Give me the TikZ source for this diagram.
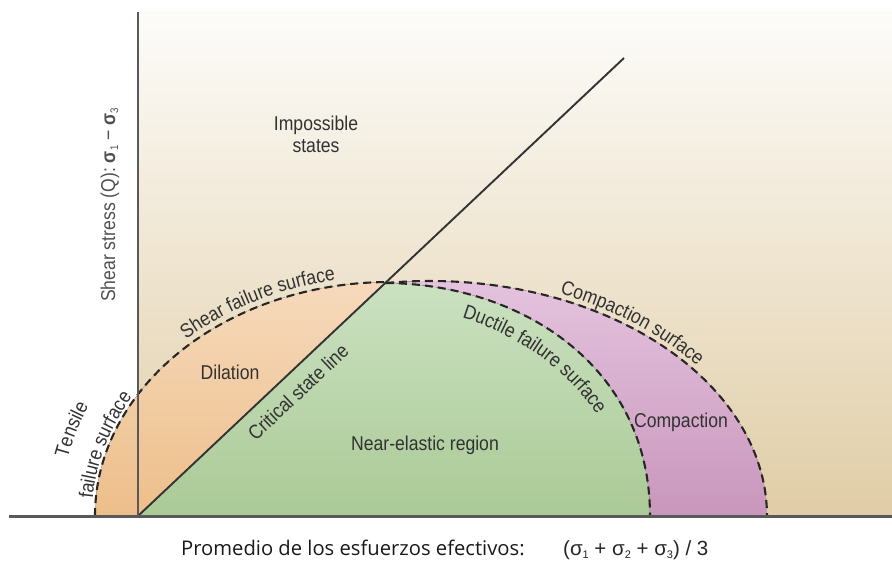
\documentclass[tikz,border=0pt]{standalone}
\usepackage{fontspec}
\setmainfont{Liberation Sans}
\newfontfamily\condfont[FakeStretch=0.88]{Liberation Sans}
\newfontfamily\axfont{Open Sans}
\usetikzlibrary{decorations.text}
\definecolor{txt}{RGB}{50,50,50}
\definecolor{ytxt}{RGB}{80,80,80}
\definecolor{bgtop}{RGB}{253,252,250}
\definecolor{bgbot}{RGB}{224,205,166}
\definecolor{or1}{RGB}{246,218,188}
\definecolor{or2}{RGB}{237,190,138}
\definecolor{gr1}{RGB}{203,225,193}
\definecolor{gr2}{RGB}{170,202,150}
\definecolor{pu1}{RGB}{229,197,223}
\definecolor{pu2}{RGB}{201,150,188}
\newcommand\sbs[1]{\raisebox{-0.3ex}{\fontsize{11}{11}\selectfont #1}}
\newcommand\lblsize{\fontsize{20}{24}\selectfont}
\tikzset{
  lbl/.style={font=\condfont\lblsize, text=txt, inner sep=0pt},
  dashline/.style={draw=black!85, line width=2.1pt, dash pattern=on 8pt off 5pt},
  critline/.style={draw=black!80, line width=1.9pt},
  vaxis/.style={draw=black!65, line width=2pt},
  haxis/.style={draw=black!65, line width=3pt},
  curvetext/.style={decorate, decoration={text along path, text align=center, text color=txt, text={|\condfont\lblsize|#1}}}
}
\begin{document}
\begin{tikzpicture}[x=1pt,y=-1pt]
\useasboundingbox (0,0) rectangle (892,561);
% key points
\coordinate (O) at (138,516);
\coordinate (T) at (624,58);
\coordinate (P) at (386,283);
\coordinate (Ytop) at (138,12);
\coordinate (Xl) at (9,516);
\coordinate (Xr) at (892,516);
\coordinate (Lft) at (95,516);
\coordinate (Dr) at (650,516);
\coordinate (Cr) at (767,516);
% background
\fill[top color=bgtop, bottom color=bgbot] (138,12) rectangle (892,516);
% regions
\fill[top color=or1, bottom color=or2] (Lft) arc[start angle=180, end angle=269.2, x radius=295, y radius=234] -- (O) -- cycle;
\fill[top color=gr1, bottom color=gr2] (O) -- (P) .. controls (520,284) and (650,365) .. (Dr) -- cycle;
\fill[top color=pu1, bottom color=pu2] (P) arc[start angle=262.5, end angle=360, x radius=337, y radius=235] -- (Dr) .. controls (650,365) and (520,284) .. (P) -- cycle;
% dashed surfaces
\draw[dashline] (Lft) arc[start angle=180, end angle=269.2, x radius=295, y radius=234];
\draw[dashline] (P) arc[start angle=262.5, end angle=360, x radius=337, y radius=235];
\draw[dashline] (P) .. controls (520,284) and (650,365) .. (Dr);
% critical state line and axes
\draw[critline] (O) -- (T);
\draw[vaxis] (Ytop) -- (O);
\draw[haxis] (Xl) -- (Xr);
% curved labels
\path[curvetext={Shear failure surface}] (390,516) ++(218:301 and 240) arc[start angle=218, end angle=268, x radius=301, y radius=240];
\path[curvetext={Compaction surface}] (430,516) ++(282:342 and 240) arc[start angle=282, end angle=334, x radius=342, y radius=240];
\path[curvetext={Ductile failure surface}] (370,516) ++(281:258 and 212) arc[start angle=281, end angle=343, x radius=258, y radius=212];
\path[curvetext={failure surface}] (390,516) ++(180:298 and 237) arc[start angle=180, end angle=214, x radius=298, y radius=237];
\path[curvetext={Tensile}] (390,516) ++(183:330 and 269) arc[start angle=183, end angle=213, x radius=330, y radius=269];
% region labels
\node[lbl, anchor=base] (imp) at (316,131) {Impossible};
\node[lbl, anchor=base] (sta) at (316,153) {states};
\node[lbl, anchor=base] (dil) at (230,380) {Dilation};
\node[lbl, anchor=base] (near) at (425,450) {Near-elastic region};
\node[lbl, anchor=base] (comp) at (681,427) {Compaction};
\node[lbl, rotate=43.2] (crit) at (298,392) {Critical state line};
% axis labels
\node[lbl, text=ytxt, rotate=90, anchor=base] (ylab) at (115,205) {Shear stress (Q): {\bfseries σ}\sbs{1} − {\bfseries σ}\sbs{3}};
\node[anchor=base west, inner sep=0pt, font=\axfont\fontsize{20.2}{24}\selectfont, text=black!90] (xl1) at (181,555) {Promedio de los esfuerzos efectivos:};
\node[anchor=base west, inner sep=0pt, font=\fontsize{20.5}{24}\selectfont, text=black!85] (xl2) at (563,555) {(σ\sbs{1} + σ\sbs{2} + σ\sbs{3}) / 3};
\end{tikzpicture}
\end{document}
